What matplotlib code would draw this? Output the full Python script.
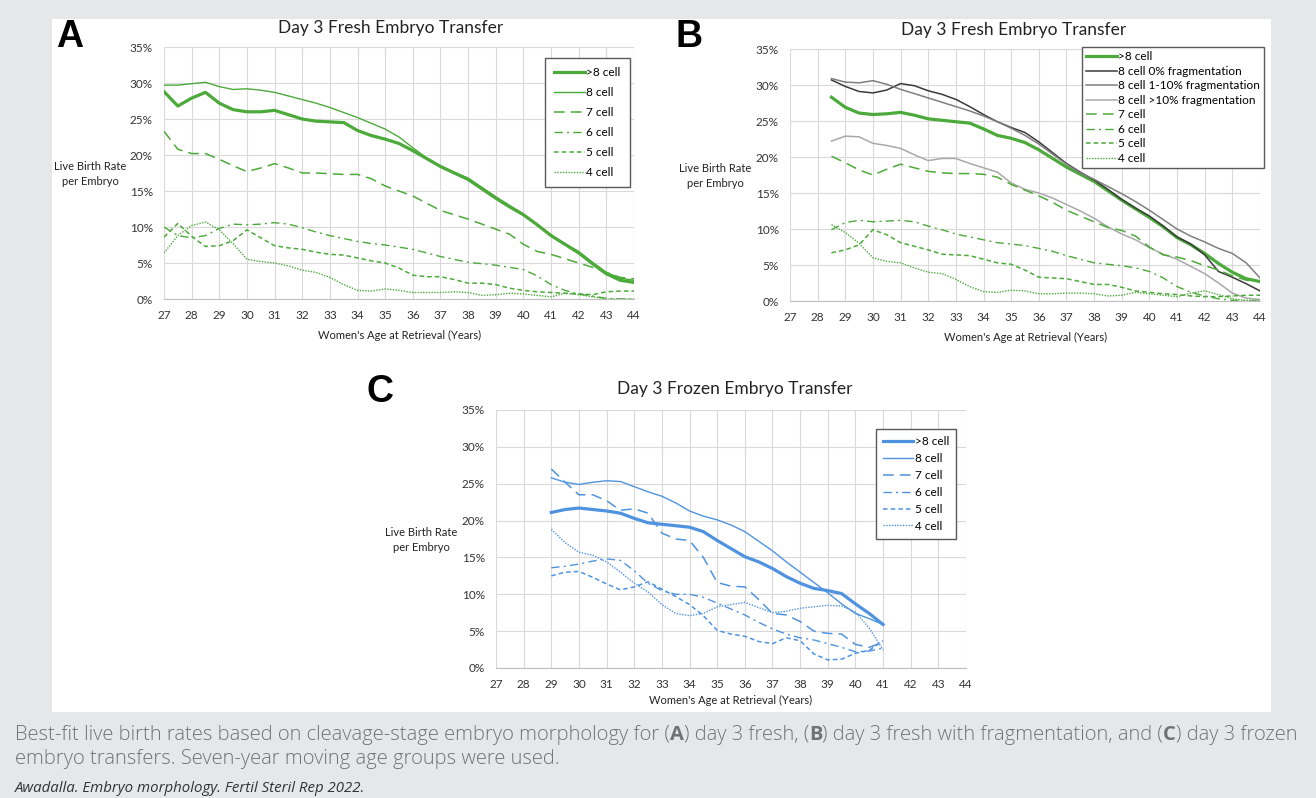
import numpy as np
import matplotlib
matplotlib.use('Agg')
import matplotlib.pyplot as plt
from matplotlib.patches import Rectangle
from matplotlib.ticker import PercentFormatter, MultipleLocator

W, H = 1316, 798

# -----------------------------
# Data: live birth rate per embryo (%)
# -----------------------------
ages_a = np.arange(27, 44.01, 0.5)
a_gt8 = [28.8, 26.8, 27.9, 28.7, 27.2, 26.3, 26.0, 26.0, 26.2, 25.6, 25.0, 24.7, 24.6, 24.5, 23.4, 22.7, 22.2, 21.6,
         20.6, 19.5, 18.4, 17.5, 16.6, 15.3, 14.0, 12.8, 11.7, 10.3, 8.8, 7.6, 6.4, 4.9, 3.5, 2.6, 2.3]
a_8 = [29.7, 29.7, 29.9, 30.1, 29.5, 29.1, 29.2, 29.0, 28.7, 28.2, 27.7, 27.2, 26.6, 25.9, 25.2, 24.4, 23.6, 22.5,
       21.0, 19.6, 18.5, 17.6, 16.8, 15.5, 14.2, 13.0, 11.8, 10.4, 8.9, 7.7, 6.6, 5.1, 3.7, 2.9, 2.6]
a_7 = [23.3, 20.8, 20.2, 20.2, 19.4, 18.5, 17.7, 18.2, 18.8, 18.2, 17.5, 17.5, 17.4, 17.3, 17.3, 16.7, 15.7, 15.0,
       14.3, 13.3, 12.3, 11.7, 11.1, 10.4, 9.7, 9.0, 7.6, 6.6, 6.2, 5.6, 5.0, 4.4, 3.7, 3.0, 2.8]
a_6 = [10.0, 8.8, 8.5, 8.8, 9.8, 10.4, 10.3, 10.4, 10.6, 10.4, 9.9, 9.3, 8.8, 8.4, 8.0, 7.7, 7.5, 7.2,
       6.9, 6.4, 5.9, 5.5, 5.1, 4.9, 4.7, 4.4, 4.1, 3.2, 2.0, 1.2, 0.7, 0.4, 0.1, 0.0, 0.0]
a_5 = [8.6, 10.5, 8.7, 7.3, 7.4, 8.1, 9.6, 8.5, 7.4, 7.1, 6.9, 6.5, 6.2, 6.1, 5.7, 5.3, 5.0, 4.3,
       3.3, 3.1, 3.1, 2.7, 2.2, 2.2, 2.0, 1.5, 1.2, 1.0, 0.9, 0.8, 0.7, 0.6, 1.0, 1.1, 1.1]
a_4 = [6.4, 8.8, 10.2, 10.7, 9.6, 7.7, 5.5, 5.2, 5.0, 4.6, 4.0, 3.7, 3.0, 2.0, 1.2, 1.1, 1.4, 1.2,
       0.9, 0.9, 0.9, 1.0, 0.9, 0.5, 0.6, 0.8, 0.7, 0.5, 0.3, 0.8, 0.6, 0.3, 0.0, 0.0, 0.0]

ages_b = np.arange(28.5, 44.01, 0.5)
b_gt8 = [28.3, 26.9, 26.1, 25.9, 26.0, 26.2, 25.8, 25.3, 25.1, 24.9, 24.7, 23.9, 23.0, 22.6, 22.0, 21.0,
         19.8, 18.6, 17.6, 16.6, 15.3, 14.0, 12.8, 11.6, 10.3, 8.8, 7.8, 6.6, 5.2, 4.0, 3.1, 2.7]
b_frag0 = [30.7, 29.8, 29.1, 28.9, 29.3, 30.2, 29.9, 29.2, 28.7, 28.0, 27.0, 25.9, 24.9, 24.1, 23.4, 22.1,
           20.6, 19.1, 17.9, 16.8, 15.5, 14.1, 12.9, 11.8, 10.4, 8.9, 7.9, 6.4, 4.1, 3.3, 2.4, 1.4]
b_frag1_10 = [30.9, 30.4, 30.3, 30.6, 30.1, 29.4, 28.8, 28.2, 27.6, 27.0, 26.4, 25.7, 24.9, 24.0, 23.0, 21.8,
              20.4, 19.0, 17.8, 16.9, 15.9, 14.9, 13.8, 12.6, 11.3, 10.0, 9.0, 8.2, 7.3, 6.6, 5.3, 3.2]
b_frag10 = [22.2, 22.9, 22.8, 21.9, 21.6, 21.2, 20.3, 19.5, 19.8, 19.8, 19.1, 18.5, 17.9, 16.4, 15.5, 15.0,
            14.3, 13.4, 12.5, 11.5, 10.3, 9.3, 8.5, 7.4, 6.5, 5.8, 4.8, 3.8, 2.5, 1.1, 0.4, 0.2]
b_7 = [20.1, 19.2, 18.2, 17.5, 18.3, 19.0, 18.5, 18.0, 17.8, 17.7, 17.7, 17.6, 17.2, 16.2, 15.4, 14.6,
       13.7, 12.6, 11.8, 11.0, 10.2, 9.8, 9.0, 7.5, 6.4, 6.1, 5.6, 4.9, 4.3, 3.5, 2.9, 2.7]
b_6 = [9.9, 10.9, 11.2, 11.0, 11.1, 11.2, 11.0, 10.4, 9.9, 9.3, 8.9, 8.5, 8.1, 7.9, 7.7, 7.3,
       6.9, 6.3, 5.8, 5.3, 5.1, 4.9, 4.6, 4.1, 3.2, 2.0, 1.2, 0.7, 0.3, 0.1, 0.0, 0.0]
b_5 = [6.7, 7.1, 7.8, 9.9, 9.2, 8.1, 7.6, 7.1, 6.5, 6.4, 6.3, 5.8, 5.3, 5.1, 4.3, 3.3,
       3.2, 3.1, 2.7, 2.3, 2.3, 1.9, 1.4, 1.2, 1.0, 0.9, 0.7, 0.6, 0.6, 0.7, 0.8, 0.8]
b_4 = [10.6, 9.5, 8.0, 6.0, 5.5, 5.3, 4.6, 4.0, 3.8, 3.0, 2.0, 1.3, 1.2, 1.5, 1.4, 1.0,
       1.0, 1.1, 1.1, 1.0, 0.7, 0.8, 1.2, 1.0, 0.8, 0.6, 1.1, 1.4, 0.9, 0.3, 0.1, 0.1]

ages_c = np.arange(29, 41.01, 0.5)
c_gt8 = [21.1, 21.5, 21.7, 21.5, 21.3, 21.0, 20.3, 19.7, 19.5, 19.3, 19.1, 18.5, 17.3, 16.2, 15.1, 14.4,
         13.5, 12.4, 11.5, 10.8, 10.5, 10.1, 8.7, 7.4, 5.9]
c_8 = [25.8, 25.2, 24.9, 25.2, 25.4, 25.3, 24.6, 23.9, 23.3, 22.4, 21.3, 20.6, 20.1, 19.4, 18.5, 17.2,
       15.9, 14.4, 13.0, 11.6, 10.2, 8.7, 7.4, 6.7, 5.9]
c_7 = [27.0, 25.2, 23.5, 23.5, 22.7, 21.4, 21.6, 21.0, 18.3, 17.5, 17.3, 15.0, 11.6, 11.1, 11.0, 9.3,
       7.4, 7.2, 6.3, 5.0, 4.7, 4.6, 3.2, 2.8, 3.5]
c_6 = [13.6, 13.8, 14.1, 14.5, 14.8, 14.6, 13.2, 11.5, 10.5, 10.0, 10.0, 9.6, 8.8, 8.0, 7.2, 6.2,
       5.3, 4.6, 4.1, 3.8, 3.3, 2.8, 2.2, 2.3, 2.7]
c_5 = [12.5, 13.0, 13.1, 12.3, 11.4, 10.6, 11.0, 11.7, 10.7, 9.7, 8.6, 7.1, 5.1, 4.6, 4.3, 3.6,
       3.3, 4.1, 3.7, 1.9, 1.1, 1.2, 2.0, 2.4, 3.7]
c_4 = [18.8, 17.0, 15.7, 15.3, 14.4, 13.0, 11.5, 10.3, 8.6, 7.4, 7.1, 7.4, 8.3, 8.6, 8.9, 8.2,
       7.5, 7.7, 8.1, 8.3, 8.5, 8.4, 7.6, 5.4, 2.5]

cell_labels = ['>8 cell', '8 cell', '7 cell', '6 cell', '5 cell', '4 cell']
frag_labels = ['8 cell 0% fragmentation', '8 cell 1-10% fragmentation', '8 cell >10% fragmentation']

# -----------------------------
# Styles
# -----------------------------
GREEN = '#4caa3a'
BLUE = '#4f93e0'
GRAYS = ['#3a3a3a', '#7f7f7f', '#a9a9a9']
plt.rcParams['font.family'] = ['Lato', 'DejaVu Sans']

styles = [dict(lw=2.3, ls='-'),
          dict(lw=1.0, ls='-'),
          dict(lw=1.1, ls=(0, (7, 4))),
          dict(lw=1.0, ls=(0, (6, 3, 1.5, 3))),
          dict(lw=1.1, ls=(0, (3, 2))),
          dict(lw=1.0, ls=(0, (1, 1)))]

fig = plt.figure(figsize=(W / 100, H / 100), dpi=100)
fig.patch.set_facecolor('#e6e7e8')
fig.add_artist(Rectangle((52 / W, 1 - 712 / H), (1271 - 52) / W, (712 - 19) / H,
                         transform=fig.transFigure, facecolor='white', edgecolor='none', zorder=0))


def px_axes(left, right, top, bottom):
    ax = fig.add_axes([left / W, 1 - bottom / H, (right - left) / W, (bottom - top) / H])
    ax.set_xlim(27, 44)
    ax.set_ylim(0, 35)
    ax.xaxis.set_major_locator(MultipleLocator(1))
    ax.yaxis.set_major_locator(MultipleLocator(5))
    ax.yaxis.set_major_formatter(PercentFormatter(xmax=100, decimals=0))
    ax.grid(color='#d9d9d9', lw=0.8)
    ax.set_axisbelow(True)
    for s in ['top', 'right', 'left']:
        ax.spines[s].set_visible(False)
    ax.spines['bottom'].set_color('#bfbfbf')
    ax.spines['bottom'].set_linewidth(0.8)
    ax.tick_params(length=0, labelsize=8.5, colors='#333333', pad=8)
    return ax


def side_text(x, y, title_x, title_y, xl_x, xl_y, title):
    fig.text(title_x / W, 1 - title_y / H, title, ha='center', va='center', fontsize=12.5, color='#222222')
    fig.text(x / W, 1 - y / H, 'Live Birth Rate\nper Embryo', ha='center', va='center',
             fontsize=8, linespacing=1.5, color='#222222')
    fig.text(xl_x / W, 1 - xl_y / H, "Women's Age at Retrieval (Years)", ha='center', va='center',
             fontsize=8, color='#222222')


def panel_letter(x, y, s):
    fig.text(x / W, 1 - y / H, s, ha='center', va='center', fontsize=27, fontweight='bold',
             family='Liberation Sans', color='black')


def boxed_legend(ax, right, top, spacing, pad):
    leg = ax.legend(loc='upper right', bbox_to_anchor=(right / W, 1 - top / H), bbox_transform=fig.transFigure,
                    fontsize=8.5, frameon=True, fancybox=False, edgecolor='#595959', framealpha=1,
                    handlelength=2.6, handletextpad=0.1, labelspacing=spacing, borderpad=pad, borderaxespad=0)
    leg.get_frame().set_linewidth(1.0)
    return leg


# ---------- Panel A ----------
axA = px_axes(164, 634, 47, 299)
for vals, lab, st in zip([a_gt8, a_8, a_7, a_6, a_5, a_4], cell_labels, styles):
    axA.plot(ages_a, vals, color=GREEN, label=lab, **st)
boxed_legend(axA, 630, 58, 0.75, 0.8)
side_text(90, 174, 391, 28, 400, 335, 'Day 3 Fresh Embryo Transfer')
panel_letter(70, 37, 'A')

# ---------- Panel B ----------
axB = px_axes(790, 1260, 49, 301)
b_series = [b_gt8, b_frag0, b_frag1_10, b_frag10, b_7, b_6, b_5, b_4]
b_labels = [cell_labels[0]] + frag_labels + cell_labels[2:]
b_colors = [GREEN] + GRAYS + [GREEN] * 4
b_styles = [styles[0], dict(lw=1.1, ls='-'), dict(lw=1.1, ls='-'), dict(lw=1.1, ls='-')] + styles[2:]
for vals, lab, col, st in zip(b_series, b_labels, b_colors, b_styles):
    axB.plot(ages_b, vals, color=col, label=lab, **st)
boxed_legend(axB, 1264, 47, 0.3, 0.35)
side_text(715, 176, 1014, 30, 1026, 337, 'Day 3 Fresh Embryo Transfer')
panel_letter(689, 37, 'B')

# ---------- Panel C ----------
axC = px_axes(496, 966, 410, 668)
for vals, lab, st in zip([c_gt8, c_8, c_7, c_6, c_5, c_4], cell_labels, styles):
    axC.plot(ages_c, vals, color=BLUE, label=lab, **st)
boxed_legend(axC, 956, 429, 0.5, 0.6)
side_text(421, 540, 735, 389, 731, 700, 'Day 3 Frozen Embryo Transfer')
panel_letter(380, 392, 'C')

# ---------- Caption ----------
cap = fig.add_axes([0, 0, 1, 1])
cap.set_axis_off()
cap.set_xlim(0, W)
cap.set_ylim(H, 0)
CAP_FONT = ['Open Sans', 'DejaVu Sans']
CAP_COL = '#707173'
CAP_SIZE = 14.5
pieces = [('Best-fit live birth rates based on cleavage-stage embryo morphology for (', 'light'),
          ('A', 'bold'), (') day 3 fresh, (', 'light'), ('B', 'bold'),
          (') day 3 fresh with fragmentation, and (', 'light'), ('C', 'bold'), (') day 3 frozen', 'light')]
prev = cap.text(15, 745, pieces[0][0], fontsize=CAP_SIZE, family=CAP_FONT, color=CAP_COL, va='bottom',
                fontweight='light')
for txt, wt in pieces[1:]:
    prev = cap.annotate(txt, xy=(1, 0), xycoords=prev, va='bottom', ha='left', fontsize=CAP_SIZE,
                        family=CAP_FONT, color=CAP_COL, fontweight=wt)
cap.text(15, 769, 'embryo transfers. Seven-year moving age groups were used.', fontsize=CAP_SIZE,
         family=CAP_FONT, color=CAP_COL, va='bottom', fontweight='light')
cap.text(15, 788, 'Awadalla. Embryo morphology. Fertil Steril Rep 2022.', fontsize=10.8, family=CAP_FONT,
         style='italic', color='#333333', va='center')

fig.savefig('out.png', dpi=100, facecolor=fig.get_facecolor())
